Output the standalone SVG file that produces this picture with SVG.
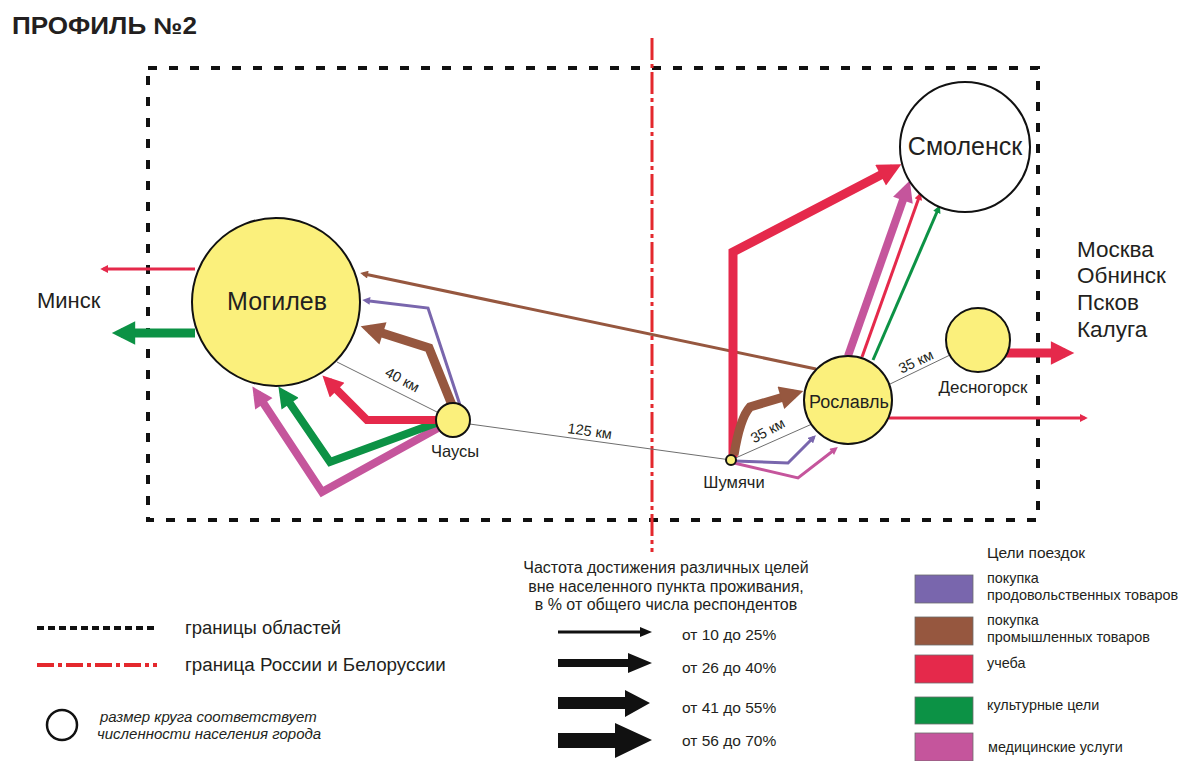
<svg xmlns="http://www.w3.org/2000/svg" width="1181" height="761" viewBox="0 0 1181 761">
<style>
text{font-family:"Liberation Sans",Arial,sans-serif;fill:#231f20}
.city{fill:#fbf07c;stroke:#111;stroke-width:2}
.gray{stroke:#6e6e6e;stroke-width:1;fill:none}
.km{font-size:14.5px}
.a{fill:none;stroke-linejoin:miter;stroke-linecap:butt}
.r{stroke:#e5294b;marker-end:url(#hr)}
.g{stroke:#0c9245;marker-end:url(#hg)}
.b{stroke:#96573f;marker-end:url(#hb)}
.p{stroke:#7966ad;marker-end:url(#hp)}
.m{stroke:#c5559c;marker-end:url(#hm)}
.lg{font-size:14.4px}
.pct{font-size:15.5px}
</style>
<defs>
<marker id="hr" viewBox="0 0 10 10" refX="6.07" refY="5" markerWidth="2.8" markerHeight="2.6" orient="auto" markerUnits="strokeWidth"><path d="M0,0L10,5L0,10z" fill="#e5294b"/></marker>
<marker id="hg" viewBox="0 0 10 10" refX="6.07" refY="5" markerWidth="2.8" markerHeight="2.6" orient="auto" markerUnits="strokeWidth"><path d="M0,0L10,5L0,10z" fill="#0c9245"/></marker>
<marker id="hb" viewBox="0 0 10 10" refX="6.07" refY="5" markerWidth="2.8" markerHeight="2.6" orient="auto" markerUnits="strokeWidth"><path d="M0,0L10,5L0,10z" fill="#96573f"/></marker>
<marker id="hp" viewBox="0 0 10 10" refX="6.07" refY="5" markerWidth="2.8" markerHeight="2.6" orient="auto" markerUnits="strokeWidth"><path d="M0,0L10,5L0,10z" fill="#7966ad"/></marker>
<marker id="hm" viewBox="0 0 10 10" refX="6.07" refY="5" markerWidth="2.8" markerHeight="2.6" orient="auto" markerUnits="strokeWidth"><path d="M0,0L10,5L0,10z" fill="#c5559c"/></marker>
</defs>
<rect width="1181" height="761" fill="#fff"/>
<text x="12" y="34" font-size="23" font-weight="bold" textLength="185" lengthAdjust="spacingAndGlyphs">ПРОФИЛЬ №2</text>

<g id="borders">
<rect x="148" y="68" width="890" height="452" fill="none" stroke="#111" stroke-width="4" stroke-dasharray="9 12"/>
<line x1="652" y1="38" x2="652" y2="552" stroke="#e4282d" stroke-width="3" stroke-dasharray="22 4 4 4"/>
</g>

<g id="connectors">
<line class="gray" x1="337" y1="362" x2="453" y2="420"/>
<line class="gray" x1="455" y1="422" x2="731" y2="460"/>
<line class="gray" x1="731" y1="460" x2="812" y2="424"/>
<line class="gray" x1="888" y1="385" x2="950" y2="355"/>
<text class="km" transform="translate(400,384) rotate(28)" text-anchor="middle">40 км</text>
<text class="km" transform="translate(589,436) rotate(8)" text-anchor="middle">125 км</text>
<text class="km" transform="translate(770,435) rotate(-28)" text-anchor="middle">35 км</text>
<text class="km" transform="translate(918,366) rotate(-25)" text-anchor="middle">35 км</text>

<path class="a r" stroke-width="3" d="M195,269H103.3"/>
<path class="a g" stroke-width="9" d="M195,333H121"/>
<path class="a b" stroke-width="3" d="M816,369L363.2,273.7"/>
<path class="a m" stroke-width="8" d="M438,428L322,492L256.9,393.3"/>
<path class="a g" stroke-width="8" d="M436,423L330,462L283,393.3"/>
<path class="a r" stroke-width="8" d="M436,420H367L328.2,381.2"/>
<path class="a b" stroke-width="9" d="M452,405L429,348L369.4,329"/>
<path class="a p" stroke-width="3" d="M460,405L428,308L365.3,300.4"/>

<path class="a r" stroke-width="9" d="M733,457V252L893.2,168.6"/>
<path class="a b" stroke-width="9" d="M734,455Q740,418 750,407L794.5,393.7"/>
<path class="a p" stroke-width="3" d="M734,461L788,463L813.7,437.3"/>
<path class="a m" stroke-width="3" d="M734,463L798,478L835.4,449"/>
<path class="a m" stroke-width="8" d="M848,356L907.1,188.3"/>
<path class="a r" stroke-width="3" d="M862,357L919.9,195.1"/>
<path class="a g" stroke-width="3" d="M873,360L938.7,208"/>
<path class="a r" stroke-width="3" d="M889,418H1084.7"/>
<path class="a r" stroke-width="9" d="M1006,353H1065.1"/>
</g>

<g id="mogilev"><circle class="city" cx="276" cy="302" r="84"/><text x="277" y="310" font-size="25" text-anchor="middle">Могилев</text></g>
<g id="chausy"><circle class="city" cx="453" cy="420" r="17"/><text x="455" y="457" font-size="16.5" text-anchor="middle">Чаусы</text></g>
<g id="shumyachi"><circle class="city" cx="731" cy="460" r="5"/><text x="734" y="488" font-size="16.5" text-anchor="middle">Шумячи</text></g>
<g id="roslavl"><circle class="city" cx="848" cy="400" r="44"/><text x="849" y="408" font-size="18" text-anchor="middle">Рославль</text></g>
<g id="desnogorsk"><circle class="city" cx="978" cy="340" r="32"/><text x="983" y="393" font-size="17" text-anchor="middle">Десногорск</text></g>
<g id="smolensk"><circle cx="965" cy="147" r="65" fill="#fff" stroke="#111" stroke-width="2"/><text x="965" y="155" font-size="25" text-anchor="middle">Смоленск</text></g>
<g id="minsk"><text x="37" y="308" font-size="22">Минск</text></g>
<g id="east">
<text x="1077" y="257" font-size="22.5">Москва</text>
<text x="1077" y="283" font-size="22.5">Обнинск</text>
<text x="1077" y="310" font-size="22.5">Псков</text>
<text x="1077" y="337" font-size="22.5">Калуга</text>
</g>

<g id="legend-lines">
<line x1="37" y1="628" x2="157" y2="628" stroke="#111" stroke-width="4" stroke-dasharray="7 4"/>
<text x="185" y="634" font-size="18.5">границы областей</text>
<line x1="37" y1="665" x2="157" y2="665" stroke="#e4282d" stroke-width="4" stroke-dasharray="17 4 4 4"/>
<text x="185" y="671" font-size="18.8">граница России и Белоруссии</text>
<circle cx="62" cy="725" r="15" fill="none" stroke="#111" stroke-width="2.5"/>
<text x="100" y="722" font-size="15" font-style="italic" fill="#333">размер круга соответствует</text>
<text x="97" y="739" font-size="15" font-style="italic" fill="#333">численности населения города</text>
</g>

<g id="legend-width">
<text x="666" y="573" font-size="16" text-anchor="middle">Частота достижения различных целей</text>
<text x="666" y="592" font-size="16" text-anchor="middle">вне населенного пункта проживания,</text>
<text x="666" y="610" font-size="16" text-anchor="middle">в % от общего числа респондентов</text>
<line x1="558" y1="632" x2="642" y2="632" stroke="#111" stroke-width="3"/>
<polygon points="640,627 652,632 640,637" fill="#111"/>
<polygon points="558,659 628,659 628,653 652,663 628,673 628,667 558,667" fill="#111"/>
<polygon points="558,697 625,697 625,690 650,703 625,717 625,709 558,709" fill="#111"/>
<polygon points="558,733 615,733 615,723 652,740 615,758 615,748 558,748" fill="#111"/>
<text class="pct" x="682" y="640">от 10 до 25%</text>
<text class="pct" x="682" y="673">от 26 до 40%</text>
<text class="pct" x="682" y="713">от 41 до 55%</text>
<text class="pct" x="682" y="746">от 56 до 70%</text>
</g>

<g id="legend-goals">
<text x="1036" y="558" font-size="15.5" text-anchor="middle">Цели поездок</text>
<rect x="915" y="575" width="58" height="28" fill="#7966ad" stroke="#6b6b6b" stroke-width="0.8"/>
<rect x="915" y="617" width="58" height="28" fill="#96573f" stroke="#6b6b6b" stroke-width="0.8"/>
<rect x="915" y="655" width="58" height="28" fill="#e5294b" stroke="#6b6b6b" stroke-width="0.8"/>
<rect x="915" y="697" width="58" height="27" fill="#0c9245" stroke="#6b6b6b" stroke-width="0.8"/>
<rect x="915" y="733" width="58" height="28" fill="#c5559c" stroke="#6b6b6b" stroke-width="0.8"/>
<text class="lg" x="987" y="583">покупка</text>
<text class="lg" x="987" y="600">продовольственных товаров</text>
<text class="lg" x="987" y="625">покупка</text>
<text class="lg" x="987" y="642">промышленных товаров</text>
<text class="lg" x="987" y="668">учеба</text>
<text class="lg" x="987" y="710">культурные цели</text>
<text class="lg" x="988" y="752">медицинские услуги</text>
</g>
</svg>
